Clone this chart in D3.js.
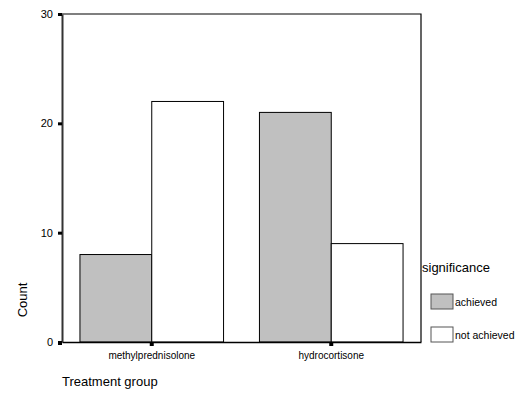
<!DOCTYPE html>
<html>
<head>
<meta charset="utf-8">
<script src="https://cdn.jsdelivr.net/npm/d3@7"></script>
<style>
  body { margin: 0; background: #fff; }
  text { font-family: "Liberation Sans", Arial, sans-serif; fill: #000; }
</style>
</head>
<body>
<svg width="531" height="402"></svg>
<script>
var groups = ['methylprednisolone', 'hydrocortisone']
var keys = ['achieved', 'not achieved']
var achieved = [8, 21]
var notAchieved = [22, 9]
var yTicks = [0, 10, 20, 30]
var colors = ['#c0c0c0', '#ffffff']

var width = 531
var height = 402
var margin = { top: 14, right: 110, bottom: 60, left: 62 }

var data = groups.map((g, i) => ({ group: g, values: [achieved[i], notAchieved[i]] }))

var svg = d3.select('svg')

var x0 = d3.scaleBand()
  .domain(groups)
  .range([margin.left, width - margin.right])
  .paddingInner(0.2)
  .paddingOuter(0.1)

var x1 = d3.scaleBand()
  .domain(keys)
  .range([0, x0.bandwidth()])

var yScale = d3.scaleLinear()
  .domain([0, 30])
  .range([height - margin.bottom, margin.top])

// plot frame (top and right)
svg.append('path')
  .attr('d', 'M' + margin.left + ',' + margin.top + 'H' + (width - margin.right) + 'V' + (height - margin.bottom))
  .attr('fill', 'none')
  .attr('stroke', '#000')
  .attr('stroke-width', 1.2)

// bars
svg.selectAll('g.grp')
  .data(data)
  .enter().append('g')
  .attr('class', 'grp')
  .attr('transform', d => 'translate(' + [x0(d.group), 0] + ')')
  .selectAll('rect')
  .data(d => d.values.map((v, i) => ({ key: keys[i], v: v })))
  .enter().append('rect')
  .attr('x', d => x1(d.key))
  .attr('y', d => yScale(d.v))
  .attr('width', x1.bandwidth())
  .attr('height', d => yScale(0) - yScale(d.v))
  .attr('fill', (d, i) => colors[i])
  .attr('stroke', '#000')
  .attr('stroke-width', 1)

// y axis
var yAxis = d3.axisLeft(yScale).tickValues(yTicks).tickSize(0).tickPadding(9)
var gy = svg.append('g')
  .attr('transform', 'translate(' + [margin.left, 0] + ')')
  .call(yAxis)
gy.select('.domain').attr('stroke', '#333').attr('stroke-width', 2)
gy.selectAll('text').attr('font-size', 11).attr('font-family', '"Liberation Sans", Arial, sans-serif')
gy.selectAll('.tick').append('rect')
  .attr('x', -4).attr('y', -1.5).attr('width', 4).attr('height', 3).attr('fill', '#000')

// x axis
var xAxis = d3.axisBottom(x0).tickSize(0).tickPadding(10)
var gx = svg.append('g')
  .attr('transform', 'translate(' + [0, height - margin.bottom] + ')')
  .call(xAxis)
gx.select('.domain').attr('stroke', '#000').attr('stroke-width', 1.5)
gx.selectAll('text').attr('font-size', 10).attr('font-family', '"Liberation Sans", Arial, sans-serif')
gx.selectAll('.tick').append('rect')
  .attr('x', -2).attr('y', 0).attr('width', 4).attr('height', 4).attr('fill', '#000')
svg.append('rect')
  .attr('x', margin.left - 4).attr('y', height - margin.bottom - 1).attr('width', 4).attr('height', 4).attr('fill', '#000')

// axis titles
svg.append('text')
  .attr('transform', 'translate(27,300) rotate(-90)')
  .attr('text-anchor', 'middle')
  .attr('font-size', 13)
  .text('Count')

svg.append('text')
  .attr('x', margin.left)
  .attr('y', 386)
  .attr('font-size', 13)
  .text('Treatment group')

// legend
var legend = svg.append('g').attr('transform', 'translate(422,0)')
legend.append('text')
  .attr('x', 0).attr('y', 272)
  .attr('font-size', 13)
  .text('significance')

var items = legend.selectAll('g.item')
  .data(keys)
  .enter().append('g')
  .attr('class', 'item')
  .attr('transform', (d, i) => 'translate(' + [9, 294 + i * 33] + ')')
items.append('rect')
  .attr('width', 22).attr('height', 15)
  .attr('fill', (d, i) => colors[i])
  .attr('stroke', '#555')
items.append('text')
  .attr('x', 24).attr('y', 12)
  .attr('font-size', 10.5)
  .text(d => d)
</script>
</body>
</html>
